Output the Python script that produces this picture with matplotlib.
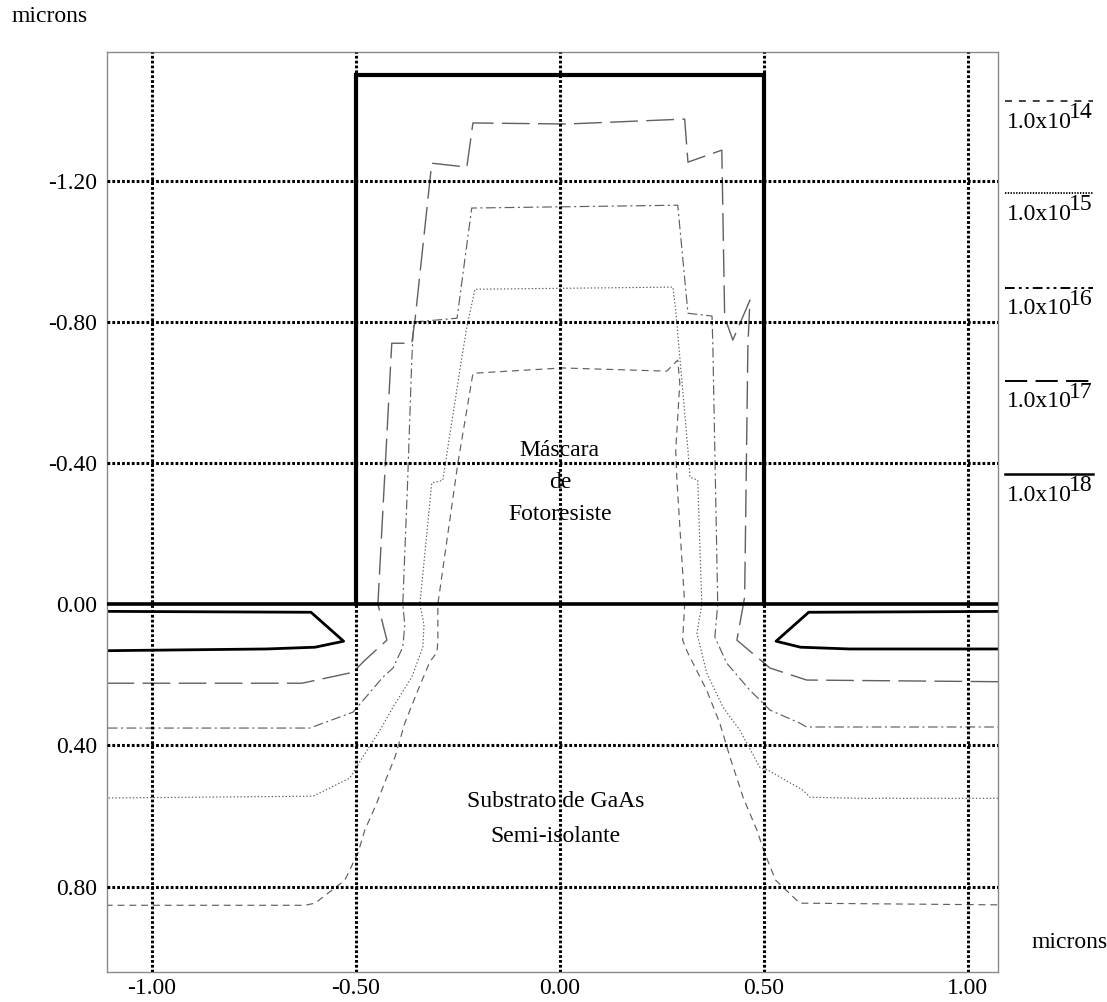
import matplotlib
matplotlib.use("Agg")
import matplotlib.pyplot as plt

plt.rcParams["font.family"] = ["Liberation Serif", "DejaVu Serif"]
plt.rcParams["lines.scale_dashes"] = False
FS = 17

# ---------------------------------------------------------------- data (microns)
x_ticks = [-1.0, -0.5, 0.0, 0.5, 1.0]
x_labels = ["-1.00", "-0.50", "0.00", "0.50", "1.00"]
y_ticks = [-1.2, -0.8, -0.4, 0.0, 0.4, 0.8]
y_labels = ["-1.20", "-0.80", "-0.40", "0.00", "0.40", "0.80"]

# photoresist mask outline
mask_x = [-0.5, -0.5, 0.5, 0.5]
mask_y = [0.0, -1.5, -1.5, 0.0]

# iso-concentration lines (cm^-3)
c14_x = [-1.20, -0.625, -0.600, -0.527, -0.495, -0.478, -0.449, -0.424, -0.404, -0.380,
         -0.348, -0.319, -0.301, -0.299, -0.299, -0.250, -0.213, 0.007, 0.262, 0.289,
         0.294, 0.284, 0.287, 0.306, 0.301, 0.314, 0.360, 0.392, 0.417, 0.449,
         0.483, 0.502, 0.529, 0.588, 1.20]
c14_y = [0.853, 0.853, 0.847, 0.782, 0.705, 0.640, 0.564, 0.490, 0.433, 0.337,
         0.244, 0.164, 0.136, 0.102, 0.0, -0.399, -0.654, -0.669, -0.660, -0.691,
         -0.626, -0.436, -0.351, 0.0, 0.102, 0.139, 0.244, 0.337, 0.433, 0.547,
         0.640, 0.705, 0.782, 0.847, 0.853]

c15_x = [-1.20, -0.605, -0.515, -0.483, -0.441, -0.409, -0.363, -0.336, -0.333, -0.343,
         -0.314, -0.287, -0.240, -0.228, -0.208, 0.277, 0.284, 0.294, 0.314, 0.319,
         0.338, 0.348, 0.336, 0.360, 0.400, 0.441, 0.490, 0.510, 0.596, 0.613,
         0.735, 1.20]
c15_y = [0.550, 0.544, 0.493, 0.433, 0.357, 0.292, 0.207, 0.122, 0.059, 0.0,
         -0.343, -0.351, -0.700, -0.785, -0.892, -0.898, -0.833, -0.700, -0.436, -0.360,
         -0.351, 0.0, 0.082, 0.195, 0.292, 0.357, 0.462, 0.470, 0.527, 0.547,
         0.550, 0.550]

c16_x = [-1.20, -0.613, -0.507, -0.461, -0.434, -0.409, -0.385, -0.380, -0.385, -0.373,
         -0.363, -0.358, -0.252, -0.216, 0.289, 0.314, 0.373, 0.375, 0.387, 0.380,
         0.409, 0.466, 0.515, 0.588, 0.605, 1.20]
c16_y = [0.351, 0.351, 0.306, 0.244, 0.207, 0.181, 0.122, 0.059, 0.0, -0.351,
         -0.691, -0.799, -0.810, -1.122, -1.130, -0.824, -0.816, -0.734, 0.0, 0.093,
         0.167, 0.244, 0.300, 0.337, 0.348, 0.348]

c17_x = [-1.20, -0.632, -0.507, -0.478, -0.424, -0.446, -0.412, -0.363, -0.355, -0.314,
         -0.228, -0.213, 0.017, 0.306, 0.314, 0.397, 0.404, 0.424, 0.466, 0.461,
         0.453, 0.446, 0.434, 0.515, 0.605, 1.20]
c17_y = [0.224, 0.224, 0.193, 0.159, 0.102, 0.0, -0.739, -0.739, -0.805, -1.249,
         -1.238, -1.363, -1.360, -1.374, -1.252, -1.286, -0.813, -0.748, -0.861, -0.734,
         -0.020, 0.025, 0.102, 0.181, 0.215, 0.221]

c18_left_x = [-1.20, -0.61, -0.53, -0.60, -0.72, -1.20]
c18_left_y = [0.020, 0.023, 0.105, 0.122, 0.127, 0.133]
c18_right_x = [1.20, 0.61, 0.53, 0.59, 0.71, 1.20]
c18_right_y = [0.020, 0.023, 0.105, 0.122, 0.127, 0.127]

legend_exponents = ["14", "15", "16", "17", "18"]

# ---------------------------------------------------------------- styles
GRAY = "#606060"
style = {
    "14": dict(color=GRAY, lw=0.85, ls=(0, (5, 3.5))),
    "15": dict(color=GRAY, lw=0.85, ls=(0, (1, 1.5))),
    "16": dict(color=GRAY, lw=0.85, ls=(0, (7, 2.5, 1.5, 2.5))),
    "17": dict(color=GRAY, lw=1.0, ls=(0, (20, 6))),
    "18": dict(color="black", lw=2.0, ls="-"),
}
legend_style = {
    "14": dict(color="#333333", lw=1.3, ls=(0, (5, 5))),
    "15": dict(color="black", lw=1.3, ls=(0, (1, 1))),
    "16": dict(color="black", lw=1.4, ls=(0, (7, 3, 2, 3, 2, 3))),
    "17": dict(color="black", lw=1.4, ls=(0, (16, 6))),
    "18": dict(color="black", lw=1.8, ls="-"),
}

# ---------------------------------------------------------------- figure
W, H = 1107, 1002
fig = plt.figure(figsize=(W / 100, H / 100), dpi=100)
ax = fig.add_axes([107 / W, 1 - 972 / H, (998 - 107) / W, (972 - 52) / H])
ax.set_xlim(-1.110, 1.074)
ax.set_ylim(1.042, -1.564)

for key, xs, ys in [("14", c14_x, c14_y), ("15", c15_x, c15_y),
                    ("16", c16_x, c16_y), ("17", c17_x, c17_y),
                    ("18", c18_left_x, c18_left_y), ("18", c18_right_x, c18_right_y)]:
    st = style[key]
    ax.plot(xs, ys, color=st["color"], lw=st["lw"], linestyle=st["ls"], zorder=2)

grid_kw = dict(color="black", lw=2.2, linestyle=(0, (2.0, 1.5)), zorder=3)
for gx in x_ticks:
    ax.axvline(gx, **grid_kw)
for gy in y_ticks:
    if gy != 0.0:
        ax.axhline(gy, **grid_kw)

# substrate surface and mask
ax.axhline(0.0, color="black", lw=2.6, zorder=4)
ax.plot(mask_x, mask_y, color="black", lw=3.0, solid_joinstyle="miter", zorder=4)

ax.set_xticks(x_ticks, labels=x_labels)
ax.set_yticks(y_ticks, labels=y_labels)
ax.tick_params(axis="y", length=0, labelsize=FS, pad=7)
ax.tick_params(axis="x", length=0, labelsize=FS, pad=4)
for sp in ax.spines.values():
    sp.set_color("#8a8a8a")
    sp.set_linewidth(1.0)

txt_kw = dict(ha="center", va="baseline", fontsize=FS, zorder=5)
ax.text(0.0, -0.419, "Máscara", **txt_kw)
ax.text(0.0, -0.329, "de", **txt_kw)
ax.text(0.0, -0.238, "Fotoresiste", **txt_kw)
ax.text(-0.01, 0.575, "Substrato de GaAs", **txt_kw)
ax.text(-0.01, 0.674, "Semi-isolante", **txt_kw)

fig.text(12 / W, 1 - 17 / H, "microns", ha="left", va="center", fontsize=FS)
fig.text(1032 / W, 1 - 943 / H, "microns", ha="left", va="center", fontsize=FS)

# level key on the right
line_rows = [101, 193, 288, 381, 474]
for exp, row in zip(legend_exponents, line_rows):
    st = legend_style[exp]
    fig.add_artist(plt.Line2D([1005 / W, 1093 / W], [1 - row / H, 1 - row / H],
                              color=st["color"], lw=st["lw"], linestyle=st["ls"]))
    fig.text(1007 / W, 1 - (row + 21) / H, "1.0x10", ha="left", va="center", fontsize=FS)
    fig.text(1069 / W, 1 - (row + 12) / H, exp, ha="left", va="center", fontsize=FS)

fig.savefig("out.png", dpi=100)
